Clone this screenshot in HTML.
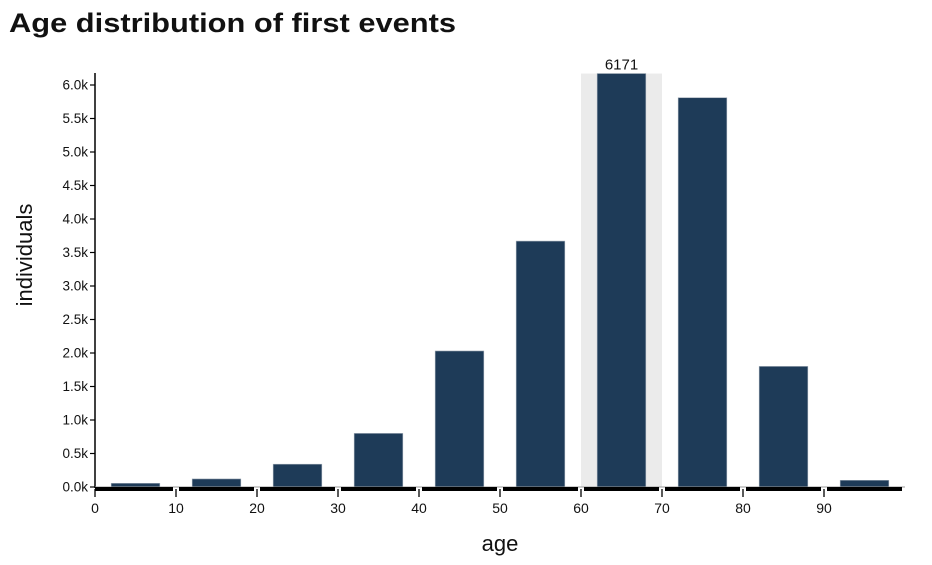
<!DOCTYPE html>
<html><head><meta charset="utf-8"><style>
body{margin:0;background:#fff;font-family:"Liberation Sans",sans-serif}
</style></head><body>
<svg id="c" width="932" height="560" xmlns="http://www.w3.org/2000/svg">
<text x="9" y="32" font-size="27" font-weight="bold" fill="#111" textLength="447" lengthAdjust="spacingAndGlyphs">Age distribution of first events</text>
<g id="plot"></g>
</svg>
<script>
const binStarts=[0,10,20,30,40,50,60,70,80,90];
const counts=[55,120,340,800,2030,3670,6171,5810,1800,100];
const yTicks=[0,500,1000,1500,2000,2500,3000,3500,4000,4500,5000,5500,6000];
const yTickLabels=["0.0k","0.5k","1.0k","1.5k","2.0k","2.5k","3.0k","3.5k","4.0k","4.5k","5.0k","5.5k","6.0k"];
const xTicks=[0,10,20,30,40,50,60,70,80,90];
const highlightBin=6;
const NS="http://www.w3.org/2000/svg";
const g=document.getElementById('plot');
const X=v=>95+v*8.1;
const Y=v=>487-v*0.067;
function mk(t,a,p){const e=document.createElementNS(NS,t);for(const k in a)e.setAttribute(k,a[k]);(p||g).appendChild(e);return e;}
const hb=mk('rect',{x:X(binStarts[highlightBin]),y:Y(counts[highlightBin]),width:X(10)-X(0),height:Y(0)-Y(counts[highlightBin]),fill:'#ebebeb'});


binStarts.forEach((s,i)=>{
 const r=mk('rect',{x:X(s+2),y:Y(counts[i]),width:X(s+8)-X(s+2),height:Y(0)-Y(counts[i]),fill:'#1e3b58',stroke:'#9aa6b2','stroke-width':0.6});
 
 
});
const vl=mk('text',{x:X(binStarts[highlightBin]+5),y:Y(counts[highlightBin])-4,'text-anchor':'middle','font-size':15,fill:'#111'});
vl.textContent=counts[highlightBin];


const ya=mk('line',{x1:95,x2:95,y1:73,y2:488,stroke:'#000','stroke-width':1.5});


yTicks.forEach((v,i)=>{
 mk('line',{x1:90,x2:95,y1:Y(v),y2:Y(v),stroke:'#000','stroke-width':1.2});
 const t=mk('text',{x:88,y:Y(v)+4.5,'text-anchor':'end','font-size':13.5,fill:'#111'});
 t.textContent=yTickLabels[i];
 
 
});
mk('line',{x1:95,x2:905,y1:487,y2:487,stroke:'#999','stroke-width':1});
binStarts.forEach((s,i)=>{
 const x0=X(s)+(i?3:0), x1=X(s+10)-3;
 const l=mk('rect',{x:x0,y:487,width:x1-x0,height:4,fill:'#000'});
 
 
});
xTicks.forEach(v=>{
 mk('line',{x1:X(v),x2:X(v),y1:489,y2:497,stroke:'#000','stroke-width':1.3});
 const t=mk('text',{x:X(v),y:513,'text-anchor':'middle','font-size':14,fill:'#111'});
 t.textContent=v;
 
 
});
const xt=mk('text',{x:500,y:551,'text-anchor':'middle','font-size':22,fill:'#111'});
xt.textContent='age';


const yt=mk('text',{x:0,y:0,'text-anchor':'middle','font-size':22,fill:'#111',transform:'translate(32,255) rotate(-90)'});
yt.textContent='individuals';


</script>
</body></html>
